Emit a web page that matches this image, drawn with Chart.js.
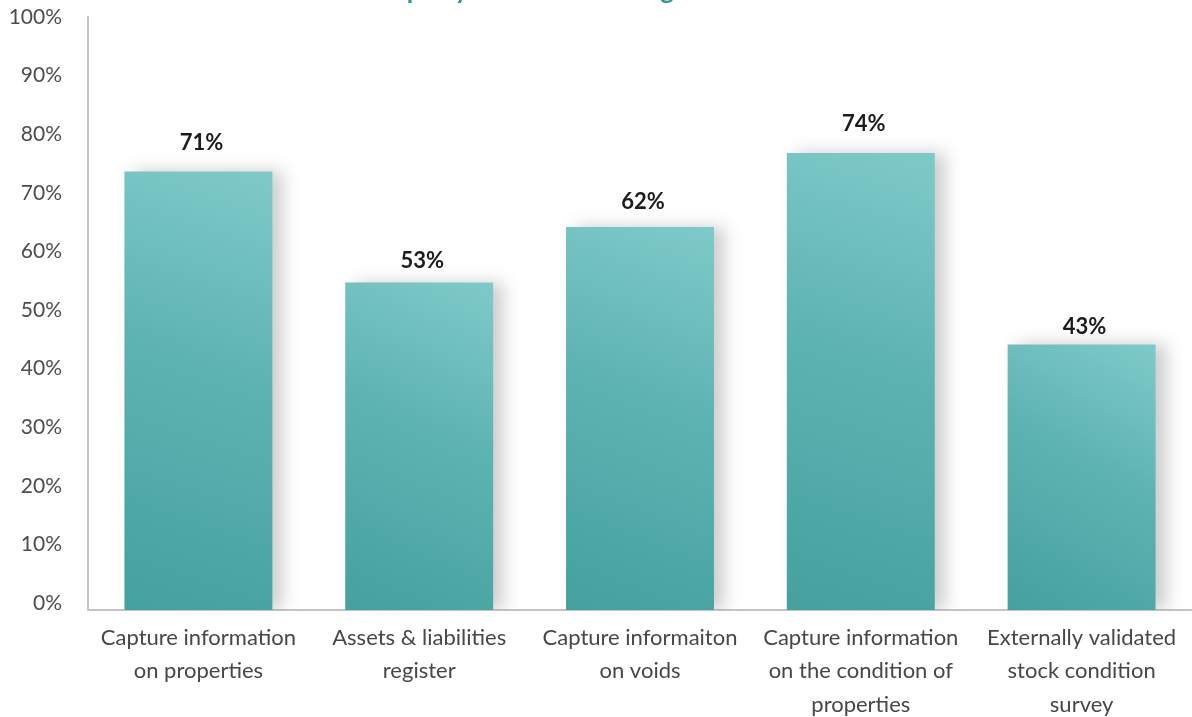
<!DOCTYPE html>
<html>
<head>
<meta charset="utf-8">
<script src="https://cdn.jsdelivr.net/npm/chart.js@4.4.1/dist/chart.umd.min.js"></script>
<style>
  html, body { margin: 0; padding: 0; background: #ffffff; }
  #wrap { width: 1192px; height: 717px; position: relative; overflow: hidden; }
</style>
</head>
<body>
<div id="wrap"><canvas id="chart" width="1192" height="717"></canvas></div>
<script>
// Survey results: share of respondents per data capability
const chartTitle = 'Property asset data management';
const categories = [
  ['Capture information', 'on properties'],
  ['Assets & liabilities', 'register'],
  ['Capture informaiton', 'on voids'],
  ['Capture information', 'on the condition of', 'properties'],
  ['Externally validated', 'stock condition', 'survey']
];
const values = [71, 53, 62, 74, 43];
const tickValues = [0, 10, 20, 30, 40, 50, 60, 70, 80, 90, 100];

const FONT = 'Lato, "Open Sans", sans-serif';

// Teal fill running from the darker lower-left corner to the lighter upper-right corner
function barGradient(ctx) {
  const chart = ctx.chart;
  const xs = chart.scales.x;
  const yb = chart.scales.yb;
  if (!xs || !yb || !chart.chartArea) return '#5fb4b3';
  const cx = xs.getPixelForValue(ctx.dataIndex);
  const w = (xs.width / categories.length) * 0.67;
  const top = yb.getPixelForValue(ctx.raw);
  const base = yb.getPixelForValue(0);
  const g = chart.ctx.createLinearGradient(cx - w / 2, base, cx + w / 2, top);
  g.addColorStop(0, '#45a0a0');
  g.addColorStop(0.55, '#5db3b2');
  g.addColorStop(1, '#7fcac9');
  return g;
}

// Soft shadow to the right of each bar
const barShadow = {
  id: 'barShadow',
  beforeDatasetDraw(chart) {
    const c = chart.ctx;
    c.save();
    c.shadowColor = 'rgba(0,0,0,0.20)';
    c.shadowBlur = 16;
    c.shadowOffsetX = 10;
    c.shadowOffsetY = 0;
  },
  afterDatasetDraw(chart) {
    chart.ctx.restore();
  }
};

// Percentage labels above the bars
const valueLabels = {
  id: 'valueLabels',
  afterDatasetsDraw(chart) {
    const c = chart.ctx;
    const meta = chart.getDatasetMeta(0);
    const yb = chart.scales.yb;
    c.save();
    c.font = 'bold 22px ' + FONT;
    c.fillStyle = '#1c1c1c';
    c.textAlign = 'center';
    c.textBaseline = 'middle';
    meta.data.forEach((bar, i) => {
      const v = chart.data.datasets[0].data[i];
      const y = yb.getPixelForValue(v * 1.06) - 2;
      c.fillText(v + '%', bar.x + 3, y);
    });
    c.restore();
  }
};

// Heading sitting mostly above the top edge of the canvas
const headline = {
  id: 'headline',
  afterDraw(chart) {
    const c = chart.ctx;
    c.save();
    c.font = 'bold 26px ' + FONT;
    c.fillStyle = '#2e9794';
    c.textAlign = 'center';
    c.textBaseline = 'alphabetic';
    c.fillText(chartTitle, 557, -1);
    c.restore();
  }
};

new Chart(document.getElementById('chart'), {
  type: 'bar',
  data: {
    labels: categories,
    datasets: [{
      data: values,
      yAxisID: 'yb',
      backgroundColor: barGradient,
      borderWidth: 0,
      categoryPercentage: 1,
      barPercentage: 0.67
    }]
  },
  options: {
    responsive: false,
    animation: false,
    devicePixelRatio: 1,
    layout: { padding: { top: 17, left: 0, right: 0, bottom: 0 } },
    plugins: {
      legend: { display: false },
      tooltip: { enabled: false },
      title: { display: false }
    },
    scales: {
      x: {
        grid: { display: false, drawTicks: false },
        border: { display: true, color: '#c4c4c4', width: 2 },
        ticks: {
          color: '#474747',
          font: { family: FONT, size: 22, lineHeight: 1.52 },
          padding: 11,
          maxRotation: 0,
          autoSkip: false
        },
        afterFit(scale) {
          scale.height = 107;
          scale.paddingLeft = 0;
          scale.paddingRight = 0;
        }
      },
      y: {
        position: 'left',
        min: -1.2,
        max: 100,
        grid: { display: false, drawTicks: false },
        border: { display: true, color: '#c4c4c4', width: 2 },
        ticks: {
          color: '#4d4d4d',
          font: { family: FONT, size: 21 },
          padding: 26,
          callback: (v) => v + '%'
        },
        afterBuildTicks(scale) {
          scale.ticks = tickValues.map(v => ({ value: v }));
        },
        afterFit(scale) {
          scale.width = 88;
          scale.paddingTop = 0;
          scale.paddingBottom = 0;
        }
      },
      yb: {
        display: false,
        min: 0,
        max: 96
      }
    }
  },
  plugins: [barShadow, valueLabels, headline]
});
</script>
</body>
</html>
